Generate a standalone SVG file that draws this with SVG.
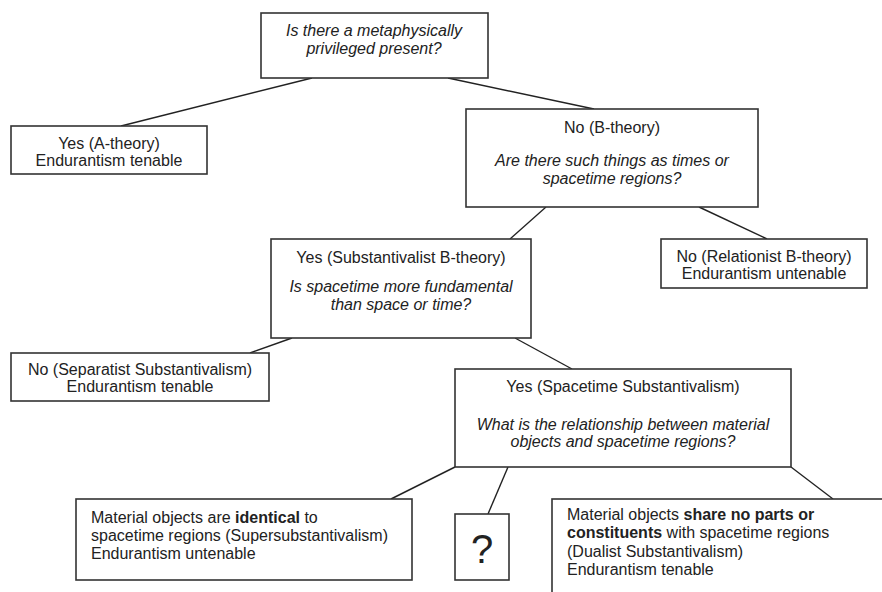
<svg xmlns="http://www.w3.org/2000/svg" width="882" height="592" viewBox="0 0 882 592">
<style>
.box{fill:#fff;stroke:#333;stroke-width:1.6}
.ln{stroke:#222;stroke-width:1.4;fill:none}
text{font-family:"Liberation Sans",Arial,sans-serif;font-size:16px;fill:#222}
.c{text-anchor:middle}
.i{font-style:italic}
.b{font-weight:bold}
</style>
<rect width="882" height="592" fill="#fff"/>
<g id="connectors">
<line class="ln" x1="312" y1="78" x2="121" y2="126"/>
<line class="ln" x1="448" y1="78" x2="594" y2="109"/>
<line class="ln" x1="546" y1="207" x2="510" y2="239"/>
<line class="ln" x1="699" y1="207" x2="767" y2="239"/>
<line class="ln" x1="292" y1="338" x2="250" y2="353"/>
<line class="ln" x1="515" y1="338" x2="572" y2="369"/>
<line class="ln" x1="455" y1="467" x2="391" y2="499"/>
<line class="ln" x1="508" y1="467" x2="488" y2="514"/>
<line class="ln" x1="791" y1="467" x2="833" y2="499"/>
</g>
<g id="n-present">
<rect class="box" x="261" y="13" width="227" height="65"/>
<text class="c i" x="374" y="36">Is there a metaphysically</text>
<text class="c i" x="374" y="54">privileged present?</text>
</g>
<g id="n-atheory">
<rect class="box" x="11" y="126" width="196" height="48"/>
<text class="c" x="109" y="149">Yes (A-theory)</text>
<text class="c" x="109" y="166">Endurantism tenable</text>
</g>
<g id="n-btheory">
<rect class="box" x="466" y="109" width="292" height="98"/>
<text class="c" x="612" y="133">No (B-theory)</text>
<text class="c i" x="612" y="166">Are there such things as times or</text>
<text class="c i" x="612" y="184">spacetime regions?</text>
</g>
<g id="n-substantivalist">
<rect class="box" x="271" y="239" width="260" height="99"/>
<text class="c" x="401" y="263">Yes (Substantivalist B-theory)</text>
<text class="c i" x="401" y="292">Is spacetime more fundamental</text>
<text class="c i" x="401" y="310">than space or time?</text>
</g>
<g id="n-relationist">
<rect class="box" x="661" y="239" width="206" height="49"/>
<text class="c" x="764" y="262">No (Relationist B-theory)</text>
<text class="c" x="764" y="279">Endurantism untenable</text>
</g>
<g id="n-separatist">
<rect class="box" x="11" y="353" width="258" height="48"/>
<text class="c" x="140" y="375">No (Separatist Substantivalism)</text>
<text class="c" x="140" y="392">Endurantism tenable</text>
</g>
<g id="n-spacetime">
<rect class="box" x="455" y="369" width="336" height="98"/>
<text class="c" x="623" y="392">Yes (Spacetime Substantivalism)</text>
<text class="c i" x="623" y="430">What is the relationship between material</text>
<text class="c i" x="623" y="447">objects and spacetime regions?</text>
</g>
<g id="n-super">
<rect class="box" x="76" y="499" width="336" height="81"/>
<text x="91" y="523">Material objects are <tspan class="b">identical</tspan> to</text>
<text x="91" y="541">spacetime regions (Supersubstantivalism)</text>
<text x="91" y="559">Endurantism untenable</text>
</g>
<g id="n-unknown">
<rect class="box" x="455" y="514" width="54" height="66"/>
<text class="c" x="482" y="563" style="font-size:40px">?</text>
</g>
<g id="n-dualist">
<rect class="box" x="552" y="499" width="400" height="200"/>
<text x="567" y="520">Material objects <tspan class="b">share no parts or</tspan></text>
<text x="567" y="538"><tspan class="b">constituents</tspan> with spacetime regions</text>
<text x="567" y="557">(Dualist Substantivalism)</text>
<text x="567" y="575">Endurantism tenable</text>
</g>
</svg>
